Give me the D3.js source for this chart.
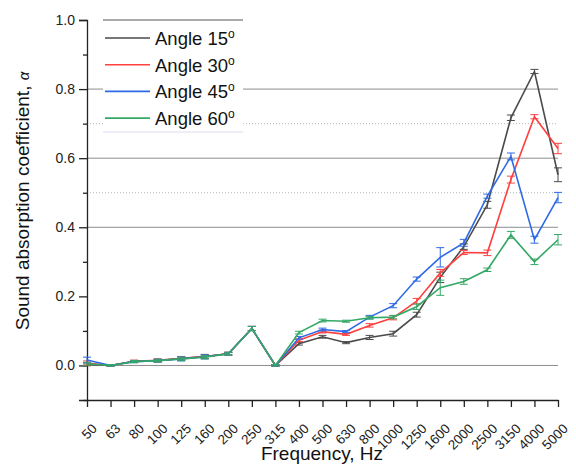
<!DOCTYPE html>
<html>
<head>
<meta charset="utf-8">
<script src="https://cdn.jsdelivr.net/npm/d3@7"></script>
<style>
  body { margin: 0; background: #fff; }
  text { font-family: 'Liberation Sans', Arial, sans-serif; }
</style>
</head>
<body>
<svg id="chart" width="576" height="466"></svg>
<script>
const frequencies = ['50', '63', '80', '100', '125', '160', '200', '250', '315', '400', '500',
  '630', '800', '1000', '1250', '1600', '2000', '2500', '3150', '4000', '5000'];

const angle15 = [0.003, 0, 0.012, 0.014, 0.02, 0.026, 0.034, 0.107, 0, 0.063, 0.083,
  0.066, 0.081, 0.092, 0.147, 0.255, 0.344, 0.465, 0.717, 0.851, 0.552];
const angle30 = [0.007, 0, 0.012, 0.015, 0.021, 0.026, 0.034, 0.107, 0, 0.073, 0.098,
  0.09, 0.116, 0.138, 0.186, 0.268, 0.327, 0.326, 0.538, 0.72, 0.628];
const angle45 = [0.016, 0, 0.011, 0.014, 0.019, 0.025, 0.034, 0.107, 0, 0.08, 0.104,
  0.098, 0.14, 0.173, 0.25, 0.313, 0.355, 0.49, 0.605, 0.364, 0.486];
const angle60 = [0.005, 0, 0.011, 0.014, 0.019, 0.024, 0.034, 0.107, 0, 0.095, 0.13,
  0.128, 0.138, 0.14, 0.17, 0.225, 0.243, 0.277, 0.378, 0.3, 0.364];

const err15 = [0.004, 0.002, 0.003, 0.004, 0.005, 0.006, 0.004, 0.006, 0.002, 0.004, 0.004,
  0.003, 0.006, 0.007, 0.007, 0.015, 0.008, 0.01, 0.008, 0.006, 0.02];
const err30 = [0.006, 0.002, 0.003, 0.004, 0.005, 0.005, 0.004, 0.006, 0.002, 0.004, 0.004,
  0.003, 0.005, 0.006, 0.008, 0.01, 0.006, 0.008, 0.01, 0.006, 0.015];
const err45 = [0.008, 0.002, 0.003, 0.004, 0.006, 0.006, 0.004, 0.006, 0.002, 0.004, 0.004,
  0.003, 0.005, 0.006, 0.006, 0.028, 0.01, 0.006, 0.01, 0.01, 0.015];
const err60 = [0.004, 0.002, 0.003, 0.004, 0.005, 0.005, 0.004, 0.006, 0.002, 0.004, 0.004,
  0.003, 0.004, 0.005, 0.008, 0.022, 0.008, 0.005, 0.01, 0.008, 0.015];

const seriesNames = ['Angle 15', 'Angle 30', 'Angle 45', 'Angle 60'];
const yTicks = [0.0, 0.2, 0.4, 0.6, 0.8, 1.0];
const solidGrid = [0.0, 0.4, 0.6, 0.8];
const dottedGrid = [0.5, 0.7];

const colors = ['#4a4a4a', '#ff4040', '#2f6ae6', '#34a865'];

const series = [angle15, angle30, angle45, angle60].map((values, i) => ({
  name: seriesNames[i],
  color: colors[i],
  values: values.map((v, j) => ({ x: frequencies[j], y: v, e: [err15, err30, err45, err60][i][j] })),
}));

const svg = d3.select('#chart');
const plotLeft = 87, plotRight = 558, plotTop = 20, plotBottom = 400;

const xScale = d3.scalePoint().domain(frequencies).range([plotLeft, plotRight]).padding(0);
const yScale = d3.scaleLinear().domain([-0.1, 1.0]).range([plotBottom, plotTop]);

// grid
svg.append('g')
  .selectAll('line')
  .data(solidGrid)
  .enter()
  .append('line')
  .attr('x1', plotLeft).attr('x2', plotRight)
  .attr('y1', (d) => yScale(d)).attr('y2', (d) => yScale(d))
  .attr('stroke', '#8c8c8c')
  .attr('stroke-width', 1);

svg.append('g')
  .selectAll('line')
  .data(dottedGrid)
  .enter()
  .append('line')
  .attr('x1', plotLeft).attr('x2', plotRight)
  .attr('y1', (d) => yScale(d)).attr('y2', (d) => yScale(d))
  .attr('stroke', '#b8b8b8')
  .attr('stroke-width', 1)
  .attr('stroke-dasharray', '1,2');

// legend box (drawn before lines so it covers grid)
const legend = svg.append('g').attr('class', 'legend');
legend.append('rect')
  .attr('x', 103).attr('y', yScale(1.0))
  .attr('width', 140).attr('height', 112)
  .attr('fill', '#fff');
legend.append('line')
  .attr('x1', 103).attr('x2', 243)
  .attr('y1', yScale(1.0)).attr('y2', yScale(1.0))
  .attr('stroke', '#555').attr('stroke-width', 1.2);
legend.append('line')
  .attr('x1', 103).attr('x2', 243)
  .attr('y1', yScale(1.0) + 112).attr('y2', yScale(1.0) + 112)
  .attr('stroke', '#dcdcf0').attr('stroke-width', 1);

// axes
const yAxis = d3.axisLeft(yScale).tickValues(yTicks).tickSize(8).tickFormat(d3.format('.1f'));
const yMinor = d3.axisLeft(yScale).tickValues(d3.range(-0.1, 1.0, 0.2).map((d) => +d.toFixed(1)))
  .tickSize(4).tickFormat('');

const gy = svg.append('g').attr('transform', `translate(${plotLeft},0)`).call(yAxis);
svg.append('g').attr('transform', `translate(${plotLeft},0)`).call(yMinor).select('.domain').remove();
gy.selectAll('text').attr('font-size', '14px').attr('fill', '#222').attr('dx', '-1');

const xAxis = d3.axisBottom(xScale).tickSize(7).tickSizeOuter(0);
const gx = svg.append('g').attr('transform', `translate(0,${plotBottom})`).call(xAxis);
gx.selectAll('text')
  .attr('font-size', '13.5px')
  .attr('fill', '#222')
  .attr('text-anchor', 'end')
  .attr('dy', '0.35em')
  .attr('transform', 'translate(7,26) rotate(-45)')
  .attr('x', 0).attr('y', 0);

svg.selectAll('.domain').attr('stroke', '#222').attr('stroke-width', 1.3);
svg.selectAll('.tick line').attr('stroke', '#222').attr('stroke-width', 1.3);

svg.append('text')
  .attr('x', 322).attr('y', 460)
  .attr('text-anchor', 'middle')
  .attr('font-size', '19px')
  .attr('fill', '#111')
  .text('Frequency, Hz');

const yTitle = svg.append('text')
  .attr('transform', 'translate(29,201) rotate(-90)')
  .attr('text-anchor', 'middle')
  .attr('font-size', '19px')
  .attr('fill', '#111')
  .text('Sound absorption coefficient, ');
yTitle.append('tspan')
  .attr('font-size', '15px')
  .attr('font-style', 'italic')
  .text('α');

// lines
const line = d3.line().x((d) => xScale(d.x)).y((d) => yScale(d.y));

const groups = svg.append('g').attr('class', 'lines')
  .selectAll('.line-group')
  .data(series)
  .enter()
  .append('g')
  .attr('class', 'line-group');

groups.append('path')
  .attr('d', (d) => line(d.values))
  .attr('fill', 'none')
  .attr('stroke', (d) => d.color)
  .attr('stroke-width', 1.6);

const bars = groups.selectAll('.err')
  .data((d) => d.values.map((v) => ({ ...v, color: d.color })))
  .enter()
  .append('g')
  .attr('class', 'err')
  .attr('stroke', (d) => d.color)
  .attr('stroke-width', 1);

bars.append('line')
  .attr('x1', (d) => xScale(d.x)).attr('x2', (d) => xScale(d.x))
  .attr('y1', (d) => yScale(d.y - d.e)).attr('y2', (d) => yScale(d.y + d.e));
bars.append('line')
  .attr('x1', (d) => xScale(d.x) - 4).attr('x2', (d) => xScale(d.x) + 4)
  .attr('y1', (d) => yScale(d.y - d.e)).attr('y2', (d) => yScale(d.y - d.e));
bars.append('line')
  .attr('x1', (d) => xScale(d.x) - 4).attr('x2', (d) => xScale(d.x) + 4)
  .attr('y1', (d) => yScale(d.y + d.e)).attr('y2', (d) => yScale(d.y + d.e));

// legend entries
const items = legend.selectAll('.item')
  .data(series)
  .enter()
  .append('g')
  .attr('class', 'item')
  .attr('transform', (d, i) => `translate(105,${38 + i * 26.7})`);

items.append('line')
  .attr('x1', 0).attr('x2', 45)
  .attr('stroke', (d) => d.color)
  .attr('stroke-width', 1.6);

const labels = items.append('text')
  .attr('x', 50).attr('y', 7)
  .attr('font-size', '18.5px')
  .attr('fill', '#111')
  .text((d) => d.name);
labels.append('tspan')
  .attr('dy', '-7')
  .attr('font-size', '12px')
  .text('o');
</script>
</body>
</html>
